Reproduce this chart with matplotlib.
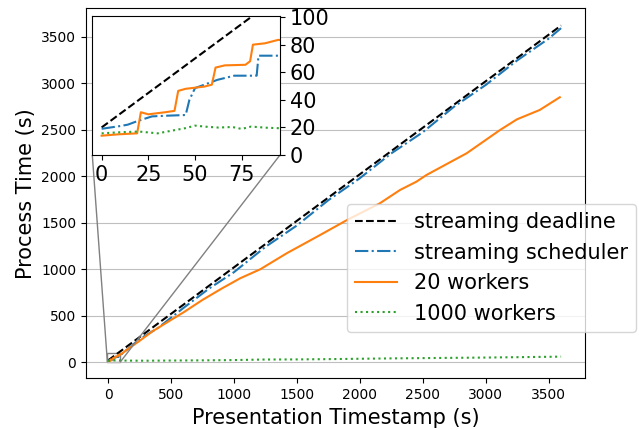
import matplotlib
matplotlib.use("Agg")
import matplotlib.pyplot as plt
from mpl_toolkits.axes_grid1.inset_locator import mark_inset

# streaming deadline
deadline_t = [0, 3600]
deadline_v = [20, 3620]

# streaming scheduler
sched_t = [0, 5, 10, 14, 20, 27, 35, 45, 47, 50, 55, 62, 71, 83, 84, 95,
           150, 250, 400, 600, 800, 1000, 1250, 1500, 1750, 2000, 2250,
           2500, 2750, 3000, 3250, 3500, 3600]
sched_v = [19, 20, 21, 22, 25, 28, 28.5, 29, 40, 48.5, 51, 54.5, 57.5, 57.5, 72, 72,
           135, 248, 372, 585, 790, 968, 1240, 1470, 1742, 1978, 2245,
           2472, 2748, 2980, 3244, 3478, 3592]

# 20 workers
w20_t = [0, 9, 19, 21, 25, 34, 39, 41, 45, 55, 59, 61, 66, 77, 79.5, 81, 87.5, 94.6, 100,
         150, 250, 350, 500, 600, 750, 900, 1050, 1210, 1420, 1685, 1900,
         2160, 2320, 2450, 2530, 2850, 3115, 3250, 3430, 3590]
w20_v = [14, 15, 15.7, 31, 29.5, 31, 32, 46.5, 48, 49.6, 51, 63.4, 65, 65.4, 68, 80, 81, 83.5, 82.5,
         135, 230, 330, 455, 537, 670, 790, 903, 1000, 1172, 1368, 1530,
         1709, 1852, 1941, 2013, 2247, 2497, 2612, 2712, 2849]

# 1000 workers
w1000_t = [0, 10, 20, 30, 39, 45, 50, 56, 62.5, 70, 75, 80, 88, 95.5,
           150, 300, 500, 750, 1000, 1250, 1500, 1750, 2000, 2250, 2500,
           2750, 3000, 3250, 3500, 3600]
w1000_v = [15.7, 16.5, 17, 15.7, 18, 19.5, 21.3, 20.5, 19.9, 20.3, 18.9, 20.6, 19.8, 19.4,
           18, 17, 19, 21, 24, 30, 31, 34, 38, 42, 45,
           48, 51, 55, 59, 61]

fig = plt.figure(figsize=(6.39, 4.30), dpi=100)
ax = fig.add_axes([86 / 639, 1 - 378.3 / 430, (585 - 86) / 639, (378.3 - 8.3) / 430])


def draw(a):
    a.plot(deadline_t, deadline_v, "k--", label="streaming deadline")
    a.plot(sched_t, sched_v, "-.", color="C0", label="streaming scheduler")
    a.plot(w20_t, w20_v, "-", color="C1", label="20 workers")
    a.plot(w1000_t, w1000_v, ":", color="C2", label="1000 workers")


draw(ax)
ax.set_xlim(-175, 3790)
ax.set_ylim(-172, 3805)
ax.grid(axis="y", color="0.75")
ax.tick_params(labelsize=10)
ax.set_xlabel("Presentation Timestamp (s)", fontsize=15)
ax.set_ylabel("Process Time (s)", fontsize=15)
ax.legend(fontsize=15, loc="upper left", bbox_to_anchor=(347 / 639, 1 - 204 / 430),
          bbox_transform=fig.transFigure, borderaxespad=0)

# zoomed inset
axins = fig.add_axes([92.3 / 639, 1 - 155 / 430, (280 - 92.3) / 639, (155 - 15.7) / 430])
draw(axins)
axins.set_xlim(-5, 95.5)
axins.set_ylim(0, 101)
axins.set_xticks([0, 25, 50, 75])
axins.set_yticks([0, 20, 40, 60, 80, 100])
axins.yaxis.tick_right()
axins.tick_params(labelsize=15)
mark_inset(ax, axins, loc1=3, loc2=4, fc="none", ec="0.5")

plt.savefig("out.png", dpi=100)
